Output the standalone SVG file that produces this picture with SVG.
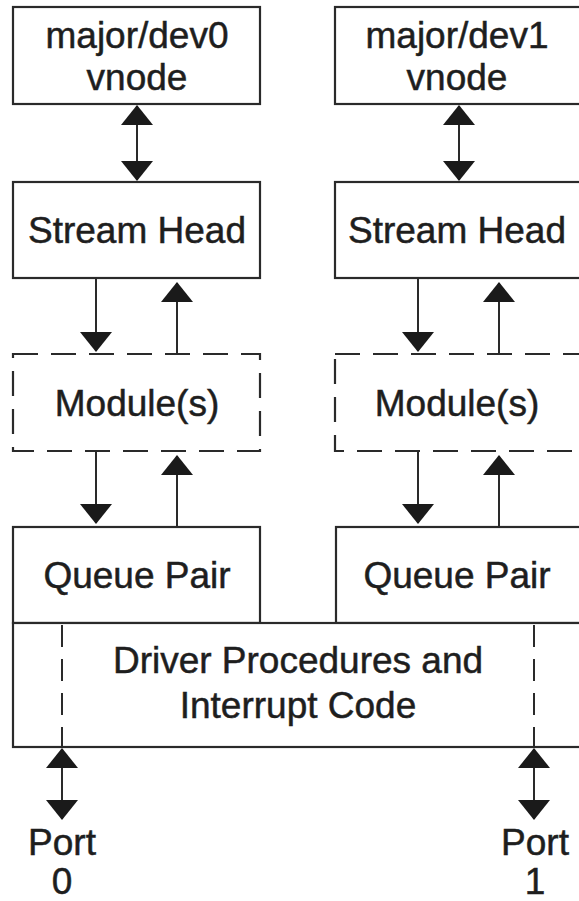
<svg xmlns="http://www.w3.org/2000/svg" width="579" height="901" viewBox="0 0 579 901">
<style>
.box{fill:#fff;stroke:#2a2a2a;stroke-width:2.2}
.dash{fill:none;stroke:#2a2a2a;stroke-width:2.2;stroke-dasharray:25 13}
.vdash{fill:none;stroke:#2a2a2a;stroke-width:2;stroke-dasharray:22 12}
.t{font-family:"Liberation Sans",Arial,sans-serif;font-size:37px;fill:#1e1e1e;stroke:#1e1e1e;stroke-width:0.5;text-anchor:middle}
.c{stroke:#2a2a2a;stroke-width:2;fill:none}
</style>
<defs>
<marker id="ah" viewBox="0 0 20 32" markerWidth="20" markerHeight="32" refX="19" refY="16" orient="auto-start-reverse" markerUnits="userSpaceOnUse">
<path d="M0,0 L20,16 L0,32 Z" fill="#1a1a1a"/>
</marker>
</defs>
<rect width="579" height="901" fill="#fff"/>
<g id="vnode0"><rect class="box" x="13" y="7" width="247" height="97"/><text class="t" x="137" y="48">major/dev0</text><text class="t" x="137" y="90">vnode</text></g>
<g id="vnode1"><rect class="box" x="335" y="7" width="260" height="97"/><text class="t" x="457" y="48">major/dev1</text><text class="t" x="457" y="90">vnode</text></g>
<g id="head0"><rect class="box" x="13" y="182" width="247" height="96"/><text class="t" x="137" y="243">Stream Head</text></g>
<g id="head1"><rect class="box" x="335" y="182" width="260" height="96"/><text class="t" x="457" y="243">Stream Head</text></g>
<g id="mod0"><rect class="dash" x="13" y="354" width="247" height="97"/><text class="t" x="137" y="416">Module(s)</text></g>
<g id="mod1"><rect class="dash" x="335" y="354" width="260" height="97"/><text class="t" x="457" y="416">Module(s)</text></g>
<g id="queue0"><rect class="box" x="13" y="527" width="247" height="96"/><text class="t" x="137" y="588">Queue Pair</text></g>
<g id="queue1"><rect class="box" x="336" y="527" width="260" height="96"/><text class="t" x="457" y="588">Queue Pair</text></g>
<g id="driver"><rect class="box" x="13" y="623" width="585" height="124"/><line class="vdash" x1="62" y1="625" x2="62" y2="747"/><line class="vdash" x1="534" y1="625" x2="534" y2="747"/><text class="t" x="298" y="673">Driver Procedures and</text><text class="t" x="298" y="718">Interrupt Code</text></g>
<g id="port0"><text class="t" x="62" y="855">Port</text><text class="t" x="62" y="894">0</text></g>
<g id="port1"><text class="t" x="535" y="855">Port</text><text class="t" x="535" y="894">1</text></g>
<g id="connectors">
<line class="c" x1="137" y1="106" x2="137" y2="180" marker-start="url(#ah)" marker-end="url(#ah)"/>
<line class="c" x1="459" y1="106" x2="459" y2="180" marker-start="url(#ah)" marker-end="url(#ah)"/>
<line class="c" x1="96" y1="279" x2="96" y2="351" marker-end="url(#ah)"/>
<line class="c" x1="177" y1="353" x2="177" y2="283" marker-end="url(#ah)"/>
<line class="c" x1="418" y1="279" x2="418" y2="351" marker-end="url(#ah)"/>
<line class="c" x1="499" y1="353" x2="499" y2="283" marker-end="url(#ah)"/>
<line class="c" x1="96" y1="452" x2="96" y2="523" marker-end="url(#ah)"/>
<line class="c" x1="177" y1="526" x2="177" y2="456" marker-end="url(#ah)"/>
<line class="c" x1="418" y1="452" x2="418" y2="523" marker-end="url(#ah)"/>
<line class="c" x1="499" y1="526" x2="499" y2="456" marker-end="url(#ah)"/>
<line class="c" x1="62" y1="749" x2="62" y2="819" marker-start="url(#ah)" marker-end="url(#ah)"/>
<line class="c" x1="534" y1="749" x2="534" y2="819" marker-start="url(#ah)" marker-end="url(#ah)"/>
</g>
</svg>
